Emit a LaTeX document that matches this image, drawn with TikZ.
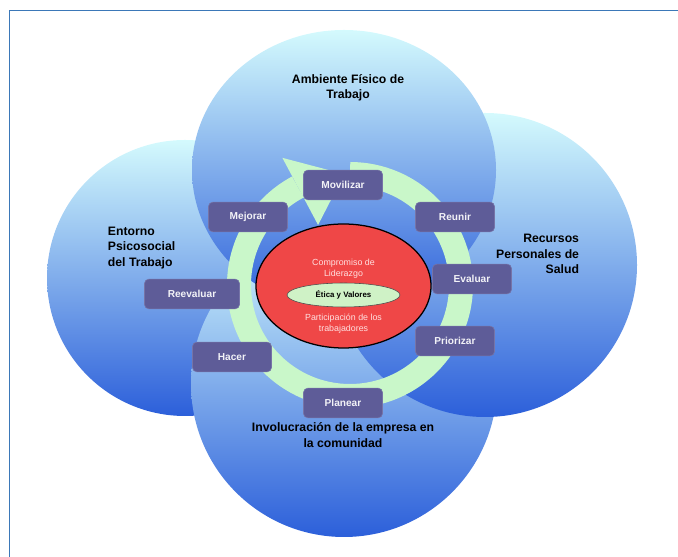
\documentclass[tikz,border=0pt]{standalone}
\usepackage{fontspec}
\setmainfont{Liberation Sans}
\usetikzlibrary{calc, shapes.geometric}
\definecolor{marcoazul}{HTML}{3B78B8}
\definecolor{cielo}{HTML}{D4FAFD}
\definecolor{celeste}{HTML}{86BEF2}
\definecolor{azulhondo}{HTML}{2C5FDA}
\definecolor{pasolila}{HTML}{5E5C98}
\definecolor{verdeciclo}{HTML}{C9F7C9}
\definecolor{rojonucleo}{HTML}{EF4747}
\definecolor{verdenucleo}{HTML}{CFF2C6}

\begin{document}
\begin{tikzpicture}[
  zona/.style={circle, shading=axis, top color=cielo, middle color=celeste,
               bottom color=azulhondo, inner sep=0pt},
  titulo/.style={font=\fontsize{8.7}{11}\selectfont\bfseries, text=black},
  paso/.style={rectangle, rounded corners=3pt, fill=pasolila, draw=pasolila!85!white,
               text=white!92!pasolila, font=\fontsize{7.2}{8}\selectfont\bfseries,
               minimum width=1.975cm, minimum height=0.74cm, inner sep=1pt},
  anillo/.style={line width=0.6cm, verdeciclo},
  nucleo/.style={font=\fontsize{6.3}{7.6}\selectfont, text=red!12!white, align=center}
]
\useasboundingbox (0,0) rectangle (16.95,13.925);

% marco
\draw[marcoazul, line width=1.4pt] (0.2375,0) -- (0.2375,13.6625) -- (16.95,13.6625);

% las cuatro areas
\node[zona, minimum size=6.9cm] (psico) at (4.625,6.975) {};
\node[zona, minimum size=7.65cm] (comunidad) at (8.6,4.325) {};
\node[zona, minimum size=7.6cm] (recursos) at (12.125,7.3) {};
\node[zona, ellipse, minimum width=7.6cm, minimum height=7cm] (fisico) at (8.6,9.675) {};

\node[titulo, align=center] (tfisico) at (8.7,11.725) {Ambiente Físico de\\Trabajo};
\node[titulo, align=left, anchor=west] (tpsico) at (2.575,7.725) {Entorno\\Psicosocial\\del Trabajo};
\node[titulo, align=right, anchor=east] (trecursos) at (14.6,7.575) {Recursos\\Personales de\\Salud};
\node[titulo, align=center] (tcomunidad) at (8.575,3.05) {Involucración de la empresa en\\la comunidad};

% ciclo de mejora
\coordinate (ciclo) at (8.75,6.8);
\draw[anillo] ($(ciclo)+(90:2.775)$) arc[start angle=90, end angle=-242, radius=2.775];
\fill[verdeciclo] ($(ciclo)+(118:1.7)$) -- ($(ciclo)+(118:3.6)$) -- ($(ciclo)+(93:2.775)$) -- cycle;

% nucleo
\node[ellipse, draw=black, line width=0.9pt, fill=rojonucleo, minimum width=4.375cm,
      minimum height=3.1cm] (lider) at (8.5875,6.775) {};
\node[ellipse, draw=black!70, fill=verdenucleo, minimum width=2.825cm, minimum height=0.6cm,
      font=\fontsize{5.6}{6}\selectfont\bfseries, inner sep=0pt] (etica) at (8.5875,6.55) {Ética y Valores};
\node[nucleo] (compromiso) at (8.5875,7.2125) {Compromiso de\\Liderazgo};
\node[nucleo] (participa) at (8.5875,5.825) {Participación de los\\trabajadores};

% pasos
\node[paso] (movilizar) at (8.575,9.3) {Movilizar};
\node[paso] (reunir) at (11.375,8.5) {Reunir};
\node[paso] (evaluar) at (11.8,6.95) {Evaluar};
\node[paso] (priorizar) at (11.375,5.4) {Priorizar};
\node[paso] (planear) at (8.575,3.85) {Planear};
\node[paso] (hacer) at (5.8,5.0) {Hacer};
\node[paso, minimum width=2.375cm] (reevaluar) at (4.8,6.575) {Reevaluar};
\node[paso] (mejorar) at (6.2,8.5) {Mejorar};

\end{tikzpicture}
\end{document}
